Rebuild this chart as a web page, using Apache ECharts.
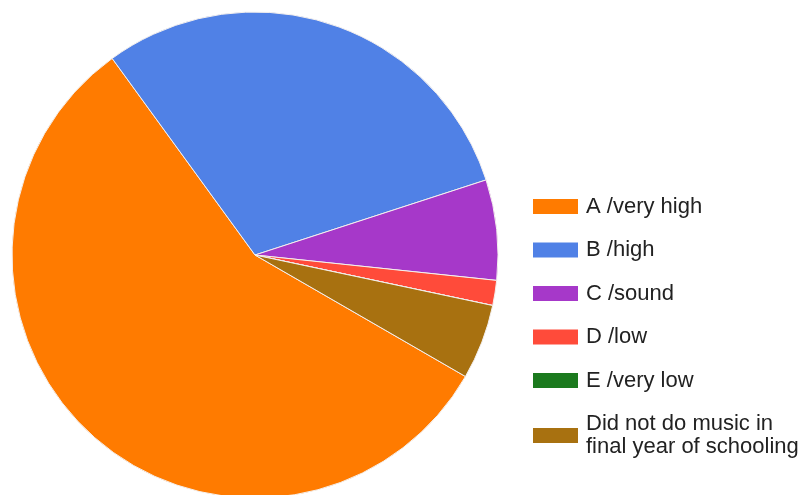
<!DOCTYPE html>
<html>
<head>
<meta charset="utf-8">
<script src="https://cdn.jsdelivr.net/npm/echarts@6/dist/echarts.min.js"></script>
<style>
  html, body { margin: 0; padding: 0; background: #fff; }
  #chart { width: 810px; height: 495px; }
</style>
</head>
<body>
<div id="chart"></div>
<script>
// Grade responses (counts) for music in the final year of schooling
const categories = [
  'A /very high',
  'B /high',
  'C /sound',
  'D /low',
  'E /very low',
  'Did not do music in\nfinal year of schooling'
];
const counts = [34, 18, 4, 1, 0, 3];
const colors = ['#ff7b00', '#5081e6', '#a638c9', '#ff4b3a', '#1b7a1e', '#a87110'];

const chart = echarts.init(document.getElementById('chart'), null, { renderer: 'canvas' });

chart.setOption({
  animation: false,
  backgroundColor: '#ffffff',
  color: colors,
  legend: {
    orient: 'vertical',
    left: 533,
    top: 195,
    padding: 0,
    itemWidth: 45,
    itemHeight: 15,
    itemGap: 20.5,
    icon: 'rect',
    itemStyle: { borderWidth: 0 },
    textStyle: {
      fontFamily: 'Liberation Sans, Arial, sans-serif',
      fontSize: 22,
      lineHeight: 23,
      color: '#222222',
      padding: [0, 0, 0, 3]
    },
    data: categories
  },
  series: [{
    type: 'pie',
    center: [255, 255],
    radius: 243,
    startAngle: -30,
    clockwise: true,
    avoidLabelOverlap: false,
    stillShowZeroSum: false,
    label: { show: false },
    labelLine: { show: false },
    emphasis: { disabled: true },
    itemStyle: { borderColor: '#f4f0ee', borderWidth: 1 },
    data: categories.map((name, i) => ({ name: name, value: counts[i] }))
  }]
});
</script>
</body>
</html>
